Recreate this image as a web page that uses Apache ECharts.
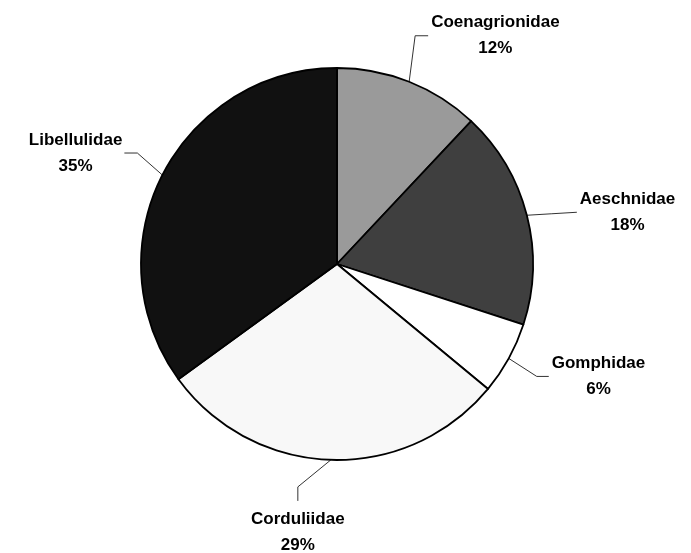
<!DOCTYPE html>
<html><head><meta charset="utf-8">
<script src="https://cdn.jsdelivr.net/npm/echarts@6/dist/echarts.min.js"></script>
<style>html,body{margin:0;padding:0;background:#fff}#c{width:691px;height:553px}</style>
</head><body><div id="c"></div>
<script>
const categories = ['Coenagrionidae', 'Aeschnidae', 'Gomphidae', 'Corduliidae', 'Libellulidae'];
const values = [12, 18, 6, 29, 35];
const colors = ['#9a9a9a', '#3f3f3f', '#ffffff', '#f8f8f8', '#111111'];
// leader line shape (style): offsets of bend point and end point, and label side
const bends = [[6, -46, 13, 0], [25, -1.5, 25, -1.5], [28, 18, 12, 0], [-33, 27, 0, 14], [-25, -22, -13, 0]];
const sides = ['right', 'right', 'right', 'below', 'left'];

const chart = echarts.init(document.getElementById('c'), null, {renderer: 'canvas'});
chart.setOption({
  animation: false,
  backgroundColor: '#fff',
  series: [{
    type: 'pie',
    radius: 196,
    center: [337, 264],
    startAngle: 90,
    clockwise: true,
    avoidLabelOverlap: false,
    itemStyle: {borderColor: '#000', borderWidth: 1.8},
    emphasis: {disabled: true},
    label: {
      formatter: '{n|{b}}\n{n|{d}%}',
      rich: {n: {align: 'center', fontSize: 17, fontWeight: 'bold', fontFamily: 'Liberation Sans, Arial, sans-serif', lineHeight: 26, color: '#000'}}
    },
    labelLine: {lineStyle: {color: '#333', width: 1}},
    data: categories.map((n, i) => ({
      name: n, value: values[i],
      itemStyle: {color: colors[i]}
    })),
    labelLayout: function (p) {
      const b = bends[p.dataIndex];
      const a = p.labelLinePoints[0].slice();
      const m = [a[0] + b[0], a[1] + b[1]];
      const e = [m[0] + b[2], m[1] + b[3]];
      const s = sides[p.dataIndex];
      const pts = [a, m, e];
      if (s === 'below') {
        return {x: e[0], y: e[1] + 5, align: 'center', verticalAlign: 'top', labelLinePoints: pts};
      }
      return {
        x: s === 'right' ? e[0] + 3 : e[0] - 2,
        y: e[1],
        align: s === 'right' ? 'left' : 'right',
        verticalAlign: 'middle',
        labelLinePoints: pts
      };
    }
  }]
});
</script></body></html>
